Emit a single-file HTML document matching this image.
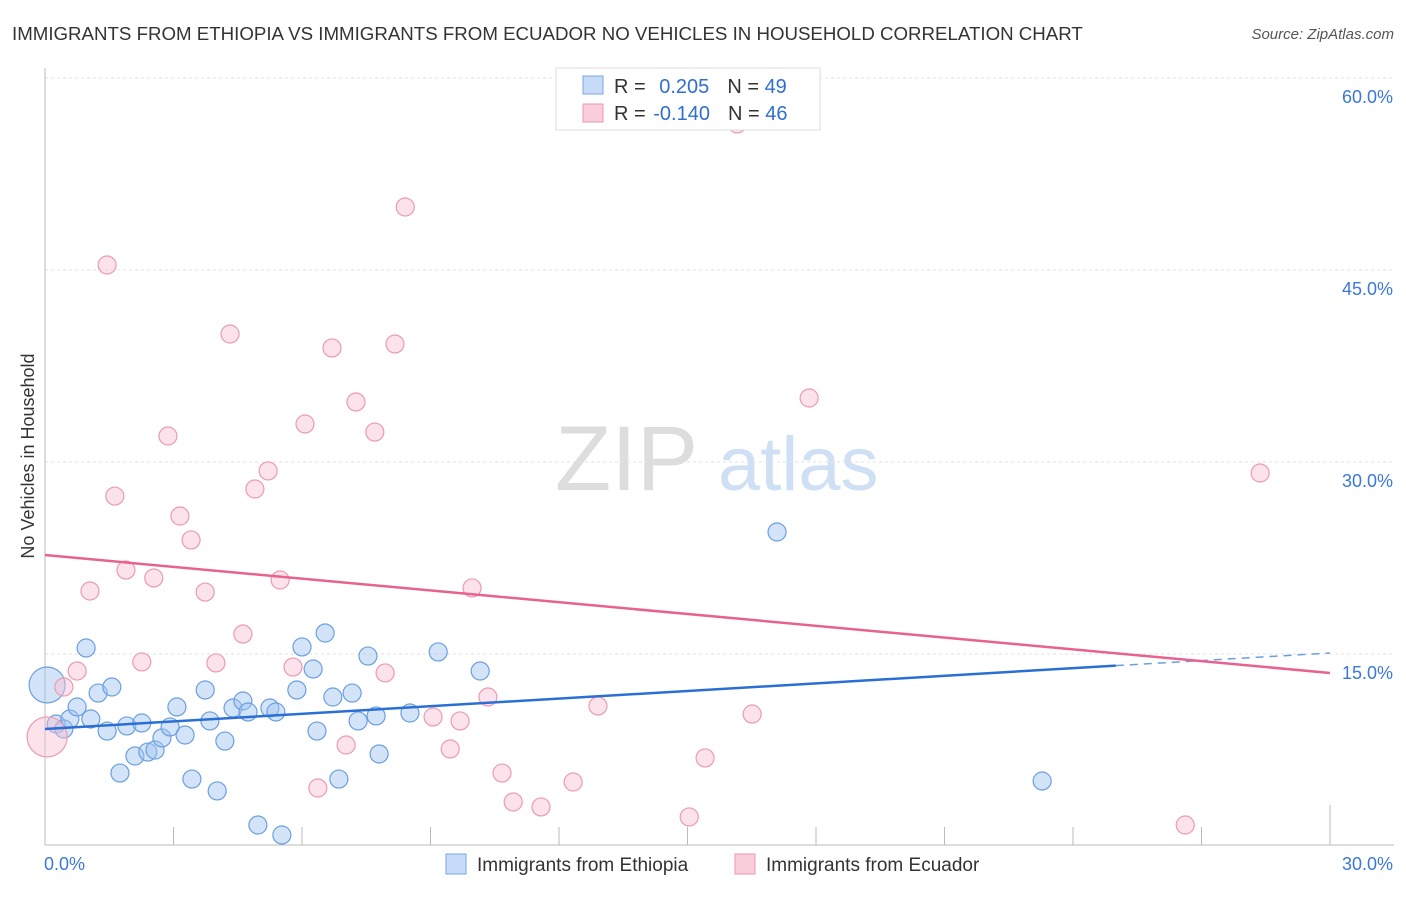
<!DOCTYPE html>
<html><head><meta charset="utf-8"><style>
body{margin:0;background:#fff;font-family:"Liberation Sans",sans-serif}
svg text{font-family:"Liberation Sans",sans-serif}
</style></head><body>
<svg id="chart" width="1406" height="892">
<text x="12" y="40" font-size="18.7" fill="#333">IMMIGRANTS FROM ETHIOPIA VS IMMIGRANTS FROM ECUADOR NO VEHICLES IN HOUSEHOLD CORRELATION CHART</text>
<text x="1394" y="39" font-size="15" fill="#555" font-style="italic" text-anchor="end">Source: ZipAtlas.com</text>
<text x="555" y="490" font-size="92" fill="#ddd" font-family="Liberation Serif">ZIP</text>
<text x="718" y="490" font-size="76" fill="#cfe0f5">atlas</text>
<text transform="translate(34,456) rotate(-90)" font-size="18" fill="#333" text-anchor="middle">No Vehicles in Household</text>
<g id="grid"></g><g id="axes"></g><g id="marks"></g>
<g>
<rect x="556" y="68" width="264" height="62" fill="#fff" stroke="#ddd"/>
<rect x="583" y="76" width="20" height="18" fill="#c5dbf7" stroke="#7aa7e0"/>
<rect x="583" y="104" width="20" height="18" fill="#f9cdda" stroke="#e99ab2"/>
<text x="614" y="93" font-size="20" fill="#333">R = <tspan fill="#2f6fd0" dx="8">0.205</tspan><tspan dx="18">N = </tspan><tspan fill="#2f6fd0">49</tspan></text>
<text x="614" y="120" font-size="20" fill="#333">R = <tspan fill="#2f6fd0" dx="2">-0.140</tspan><tspan dx="18">N = </tspan><tspan fill="#2f6fd0">46</tspan></text>
</g>
<g>
<rect x="446" y="854" width="20" height="20" fill="#c5dbf7" stroke="#7aa7e0"/>
<text x="477" y="871" font-size="19" fill="#333">Immigrants from Ethiopia</text>
<rect x="735" y="854" width="20" height="20" fill="#f9cdda" stroke="#e99ab2"/>
<text x="766" y="871" font-size="19" fill="#333">Immigrants from Ecuador</text>
</g>
</svg>
<script>
const yTicks=[15,30,45,60];
const yTickLabels=["15.0%","30.0%","45.0%","60.0%"];
const xTicks=[0,3,6,9,12,15,18,21,24,27,30];
const ethX=[0.05,0.26,0.44,0.58,0.75,0.96,1.07,1.24,1.45,1.56,1.75,1.91,2.10,2.26,2.40,2.57,2.73,2.92,3.08,3.27,3.43,3.74,3.85,4.02,4.20,4.39,4.62,4.74,4.97,5.25,5.39,5.53,5.88,6.00,6.26,6.35,6.54,6.72,6.86,7.17,7.31,7.54,7.73,7.80,8.52,9.18,10.16,17.09,23.28];
const ethY=[12.58,9.53,9.14,9.92,10.86,15.47,9.92,11.95,8.98,12.42,5.70,9.38,7.03,9.61,7.34,7.50,8.44,9.30,10.86,8.67,5.23,12.19,9.77,4.30,8.20,10.78,11.33,10.47,1.64,10.78,10.47,0.86,12.19,15.55,13.83,8.98,16.64,11.64,5.23,11.95,9.77,14.84,10.16,7.19,10.39,15.16,13.67,24.53,5.08];
const ecuX=[0.05,0.44,0.75,1.05,1.45,1.63,1.89,2.26,2.54,2.87,3.15,3.41,3.74,3.99,4.32,4.62,4.90,5.21,5.49,5.79,6.07,6.37,6.70,7.03,7.26,7.70,7.94,8.17,8.41,9.06,9.46,9.69,9.97,10.34,10.67,10.93,11.58,12.33,12.91,15.04,15.41,16.16,16.51,17.84,26.62,28.37];
const ecuY=[8.52,12.42,13.67,19.92,45.39,27.34,21.56,14.38,20.94,32.03,25.78,23.91,19.84,14.30,40.0,16.56,27.89,29.30,20.78,13.98,32.97,4.53,38.91,7.89,34.69,32.34,13.52,39.22,49.92,10.08,7.58,9.77,20.16,11.64,5.70,3.44,3.05,5.0,10.94,2.27,6.88,56.41,10.31,35.0,1.64,29.14];
const ethTrend=[9.14,15.08];
const ecuTrend=[22.73,13.52];
const NS="http://www.w3.org/2000/svg";
const X=v=>45+v*(1285/30), Y=v=>846-v*12.8;
function mk(p,t,a){const e=document.createElementNS(NS,t);for(const k in a)e.setAttribute(k,a[k]);p.appendChild(e);return e;}
const grid=document.getElementById('grid'),axes=document.getElementById('axes'),marks=document.getElementById('marks');
yTicks.forEach((t,i)=>{
 const l=mk(grid,'line',{x1:45,x2:1394,y1:Y(t),y2:Y(t),stroke:'#e2e2e2','stroke-dasharray':'3,3'});
 
 
 const tx=mk(grid,'text',{x:1393,y:Y(t)+25,'font-size':18,fill:'#3b78d8','text-anchor':'end'});
 tx.textContent=yTickLabels[i];
 
 
});
const ax=mk(axes,'line',{x1:45,x2:1394,y1:845,y2:845,stroke:'#bbb'});


const ay=mk(axes,'line',{x1:45,x2:45,y1:68,y2:845,stroke:'#bbb'});


xTicks.slice(1).forEach((t,i,a)=>{
 const l=mk(axes,'line',{x1:X(t),x2:X(t),y1:i==a.length-1?805:827,y2:845,stroke:'#bbb'});
 
 
});
[[0,"0.0%",'start',44],[30,"30.0%",'end',1393]].forEach(d=>{
 const tx=mk(axes,'text',{x:d[3],y:870,'font-size':18,fill:'#3b78d8','text-anchor':d[2]});
 tx.textContent=d[1];
 
 
});
ethX.forEach((v,i)=>{
 const c=mk(marks,'circle',{cx:X(v),cy:Y(ethY[i]),r:i==0?18:9,fill:'rgba(160,195,240,0.45)',stroke:'#6a9fe0','stroke-width':1.2});
 
 
});
ecuX.forEach((v,i)=>{
 const c=mk(marks,'circle',{cx:X(v),cy:Y(ecuY[i]),r:i==0?20:9,fill:'rgba(248,190,208,0.45)',stroke:'#eb9ab4','stroke-width':1.2});
 
 
});
const lerp=(tr,x)=>tr[0]+(tr[1]-tr[0])*x/30;
const b1=mk(marks,'line',{x1:X(0),y1:Y(ethTrend[0]),x2:X(25),y2:Y(lerp(ethTrend,25)),stroke:'#2a6fd6','stroke-width':2.5});


const b2=mk(marks,'line',{x1:X(25),y1:Y(lerp(ethTrend,25)),x2:X(30),y2:Y(ethTrend[1]),stroke:'#6a9fe0','stroke-width':1.5,'stroke-dasharray':'8,6'});


const p1=mk(marks,'line',{x1:X(0),y1:Y(ecuTrend[0]),x2:X(30),y2:Y(ecuTrend[1]),stroke:'#e8628f','stroke-width':2.5});


</script>
</body></html>
